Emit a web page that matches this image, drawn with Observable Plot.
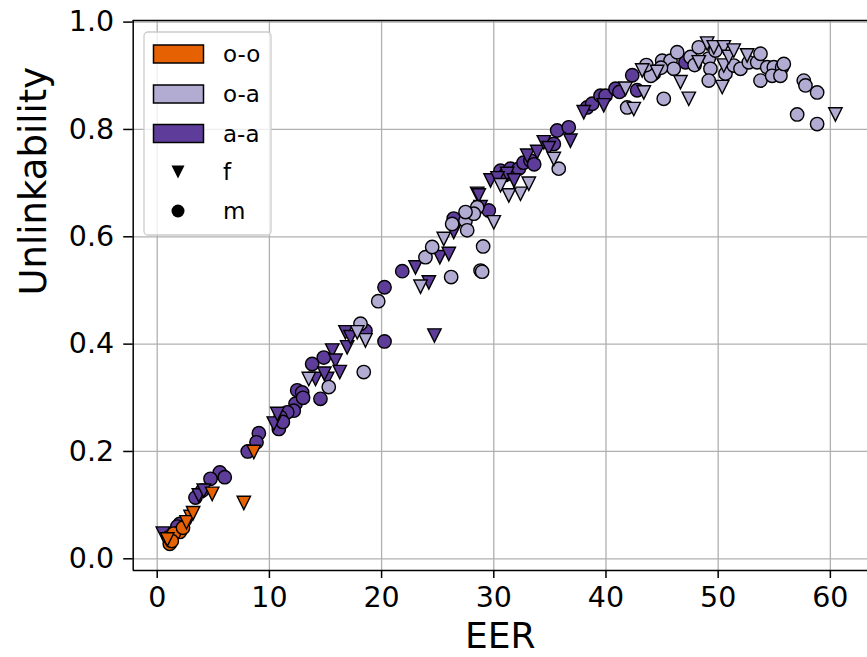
<!DOCTYPE html>
<html><head><meta charset="utf-8">
<script src="https://cdn.jsdelivr.net/npm/d3@7"></script>
<script src="https://cdn.jsdelivr.net/npm/@observablehq/plot@0.6"></script>
<style>
body{margin:0;background:#fff;font-family:"DejaVu Sans",sans-serif}
#chart{position:relative;width:867px;height:657px;overflow:hidden}
</style>
</head><body><div id="chart"></div>
<script>
// Categories
const groups = ["o-o", "o-a", "a-a"];
const groupColors = ["#e66101", "#b2abd2", "#5e3c99"];
const genders = ["f", "m"];
const xTicks = [0, 10, 20, 30, 40, 50, 60];
const yTicks = [0.0, 0.2, 0.4, 0.6, 0.8, 1.0];

// a-a, m (circles)
const aa_m_eer = [5.58,6.02,4.75,9.06,8.85,8.07,2.01,3.41,4.01,12.48,12.33,12.17,10.84,11.59,10.99,12.92,14.55,13.81,14.85,18.56,20.26,20.26,21.84,26.43,29.55,30.60,31.49,32.23,32.65,33.27,35.35,35.65,36.68,38.32,38.77,39.51,39.96,40.85,42.34,42.78,44.26,47.09,11.2,13.0,1.8,31.0,33.6,41.2];
const aa_m_unl = [0.161,0.152,0.149,0.234,0.217,0.200,0.065,0.114,0.127,0.314,0.289,0.276,0.242,0.273,0.264,0.310,0.298,0.363,0.375,0.425,0.405,0.506,0.536,0.634,0.649,0.723,0.727,0.727,0.738,0.742,0.773,0.798,0.804,0.841,0.848,0.863,0.863,0.876,0.901,0.873,0.904,0.925,0.255,0.300,0.060,0.715,0.735,0.870];
// a-a, f (triangles)
const aa_f_eer = [3.71,4.15,10.39,10.70,14.11,15.15,15.60,15.89,16.27,16.93,16.78,17.23,24.71,23.02,24.21,25.19,25.99,26.43,28.52,29.71,31.19,32.98,33.87,34.46,36.83,28.66,28.82,38.02,39.80,30.33,14.9,0.5,31.8,34.9];
const aa_f_unl = [0.118,0.127,0.252,0.270,0.335,0.335,0.388,0.369,0.348,0.394,0.422,0.413,0.416,0.543,0.515,0.562,0.568,0.609,0.680,0.705,0.717,0.751,0.758,0.776,0.779,0.677,0.655,0.832,0.845,0.709,0.345,0.047,0.705,0.765];
// o-a, m (circles)
const oa_m_eer = [15.29,18.41,18.12,19.70,26.20,28.82,23.91,24.51,26.29,27.48,27.63,28.52,29.05,28.96,28.22,27.48,35.79,41.89,45.15,45.01,45.75,46.35,46.04,47.53,48.27,49.16,49.31,49.16,49.76,50.65,51.39,51.99,52.73,53.48,53.77,53.77,54.37,54.96,54.81,55.70,55.55,55.85,57.63,57.78,58.82,57.04,58.82,44.0,43.6,47.9,44.9];
const oa_m_unl = [0.320,0.348,0.438,0.480,0.525,0.537,0.562,0.581,0.624,0.630,0.612,0.655,0.582,0.535,0.643,0.646,0.727,0.841,0.857,0.928,0.928,0.944,0.913,0.935,0.953,0.932,0.913,0.891,0.947,0.904,0.919,0.913,0.925,0.925,0.941,0.891,0.916,0.916,0.900,0.916,0.900,0.922,0.891,0.882,0.869,0.828,0.810,0.900,0.920,0.920,0.915];
// o-a, f (triangles)
const oa_f_eer = [13.51,18.56,17.83,23.47,25.54,30.0,35.35,33.12,32.38,31.34,30.60,41.74,42.48,43.37,43.23,44.56,46.64,47.38,48.27,49.02,49.61,50.50,50.50,50.36,50.95,51.39,52.58,60.45];
const oa_f_unl = [0.335,0.407,0.422,0.507,0.596,0.627,0.745,0.699,0.680,0.677,0.696,0.876,0.838,0.869,0.910,0.907,0.888,0.857,0.925,0.960,0.953,0.953,0.919,0.879,0.935,0.947,0.938,0.828];
// o-o, m (circles)
const oo_m_eer = [1.12,1.03,2.01,1.48,1.3,2.3];
const oo_m_unl = [0.028,0.040,0.050,0.047,0.033,0.058];
// o-o, f (triangles)
const oo_f_eer = [2.97,2.61,3.2,4.90,7.72,8.61,0.9];
const oo_f_unl = [0.078,0.068,0.085,0.121,0.104,0.199,0.036];

const series = [
  ["a-a","m",aa_m_eer,aa_m_unl],["a-a","f",aa_f_eer,aa_f_unl],
  ["o-a","m",oa_m_eer,oa_m_unl],["o-a","f",oa_f_eer,oa_f_unl],
  ["o-o","m",oo_m_eer,oo_m_unl],["o-o","f",oo_f_eer,oo_f_unl]
];
const data = series.flatMap(([g, s, xs, ys]) => xs.map((x, i) => ({eer: x, unl: ys[i], group: g, gender: s})));

const triangleDown = {
  draw(ctx, size) {
    const r = Math.sqrt(size / Math.PI);
    ctx.moveTo(-r, -r); ctx.lineTo(r, -r); ctx.lineTo(0, r); ctx.closePath();
  }
};

const xDomain = [-2.14, 63.31];
const yDomain = [-0.0218, 1.003];
const font = "DejaVu Sans";

const chart = Plot.plot({
  width: 867, height: 657,
  marginLeft: 132.7, marginRight: 0, marginTop: 20, marginBottom: 87,
  style: {fontFamily: font, color: "#000", background: "#fff"},
  x: {domain: xDomain},
  y: {domain: yDomain},
  color: {domain: groups, range: groupColors},
  symbol: {domain: genders, range: [triangleDown, d3.symbolCircle]},
  marks: [
    Plot.gridX(xTicks, {stroke: "#b0b0b0", strokeOpacity: 1, strokeWidth: 1.3}),
    Plot.gridY(yTicks, {stroke: "#b0b0b0", strokeOpacity: 1, strokeWidth: 1.3}),
    Plot.dot(data, {x: "eer", y: "unl", fill: "group", symbol: "gender", r: 6.7, stroke: "#000", strokeWidth: 1.4}),
    Plot.ruleX([xDomain[0]], {stroke: "#000", strokeWidth: 1.5}),
    Plot.ruleY([yDomain[0], yDomain[1]], {stroke: "#000", strokeWidth: 1.5}),
    Plot.axisX(xTicks, {tickSize: 8, tickPadding: 8.7, fontSize: 28.5, label: null, stroke: "#000", strokeWidth: 1.5, fill: "#000"}),
    Plot.axisY(yTicks, {tickSize: 9.5, tickPadding: 9.5, fontSize: 28.5, label: null, tickFormat: d3.format(".1f"), stroke: "#000", strokeWidth: 1.5, fill: "#000"}),
    Plot.text(["EER"], {frameAnchor: "bottom", dy: 65.5, fontSize: 36, fill: "#000", lineAnchor: "middle"}),
    Plot.text(["Unlinkability"], {frameAnchor: "left", dx: -98.7, rotate: -90, fontSize: 37, fill: "#000", lineAnchor: "middle"})
  ]
});
document.getElementById("chart").appendChild(chart);

// Legend (matplotlib-style, upper left)
const svg = d3.select(chart);
const lg = svg.append("g").attr("font-family", font).attr("font-size", 23).attr("text-anchor", "start");
lg.append("rect").attr("x", 144).attr("y", 32).attr("width", 127).attr("height", 203)
  .attr("rx", 4).attr("fill", "#fff").attr("fill-opacity", 0.8).attr("stroke", "#cccccc").attr("stroke-width", 1.3);
const rowY = [54, 94, 133.5, 172, 211];
groups.forEach((g, i) => {
  lg.append("rect").attr("x", 153.5).attr("y", rowY[i] - 9).attr("width", 50).attr("height", 18)
    .attr("fill", groupColors[i]).attr("stroke", "#000").attr("stroke-width", 1.5);
  lg.append("text").attr("x", 223).attr("y", rowY[i]).attr("dy", "0.35em").attr("text-anchor", "start").attr("fill", "#000").text(g);
});
const legendSymbols = [triangleDown, d3.symbolCircle];
genders.forEach((s, j) => {
  const y = rowY[3 + j];
  lg.append("path").attr("transform", `translate(178,${y})`)
    .attr("d", d3.symbol(legendSymbols[j], Math.PI * 6.5 * 6.5)()).attr("fill", "#000");
  lg.append("text").attr("x", 223).attr("y", y).attr("dy", "0.35em").attr("text-anchor", "start").attr("fill", "#000").text(s);
});
</script>
</body></html>
